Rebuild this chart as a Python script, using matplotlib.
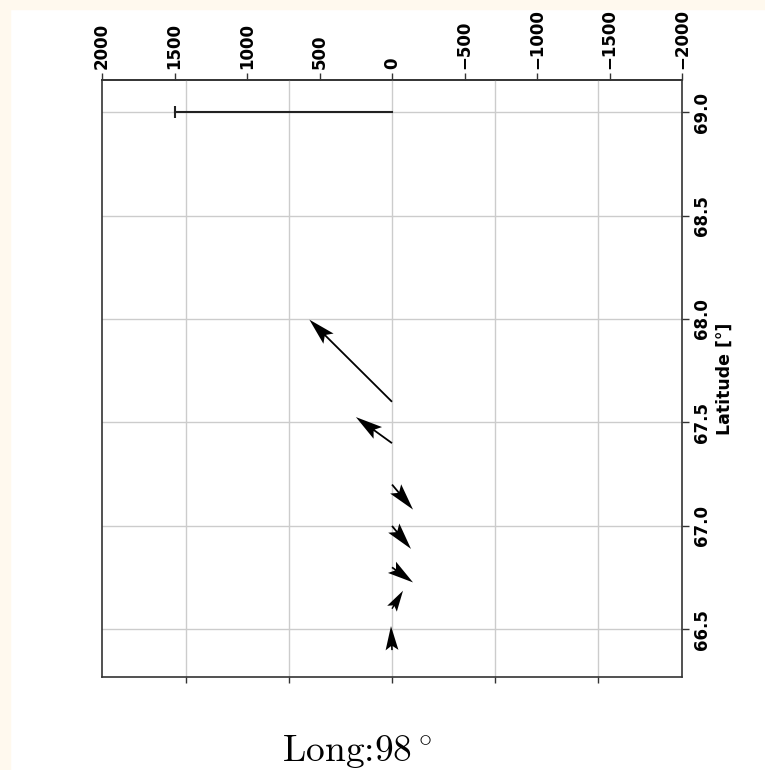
import numpy as np
import matplotlib
matplotlib.use('Agg')
from matplotlib import pyplot as plt
from matplotlib.patches import Rectangle

plt.rcParams['mathtext.fontset'] = 'cm'
#
# vector tails (latitude) and components (horizontal in display units, latitude)
lat = np.array([66.4, 66.6, 66.8, 67.0, 67.2, 67.4, 67.6])
u = np.array([7, -76, -145, -131, -145, 249, 570])
v = np.array([0.116, 0.087, -0.073, -0.111, -0.121, 0.126, 0.397])
x0 = np.zeros_like(lat)
#
ref_lat = 69.0
ref_len = 1500
#
top_ticks = [2000, 1500, 1000, 500, 0, -500, -1000, -1500, -2000]
grid_ticks = [1420, 710, 0, -710, -1420]
lat_ticks = [66.5, 67.0, 67.5, 68.0, 68.5, 69.0]
label_text = 'Latitude [°]'
long_text = 'Long:98$\\,^{\\circ}$'
#
fig = plt.figure(figsize=(7.65, 7.7), dpi=100)
fig.patches.append(Rectangle((0, 0), 10/765, 1, transform=fig.transFigure,
                             color='#fff9ee', zorder=-1))
fig.patches.append(Rectangle((0, 1-9/770), 1, 9/770, transform=fig.transFigure,
                             color='#fff9ee', zorder=-1))
#
ax = fig.add_axes([102/765, 1-677/770, 580/765, 597/770])
ax.set_xlim(2000, -2000)
ax.set_ylim(66.27, 69.155)
ax.set_xticks(grid_ticks)
ax.set_xticklabels([])
ax.set_yticks(lat_ticks)
ax.set_yticklabels(['%.1f' % t for t in lat_ticks], rotation=90, va='center',
                   fontsize=12, fontweight='bold')
ax.yaxis.tick_right()
ax.yaxis.set_label_position('right')
ax.set_ylabel(label_text, fontsize=12.5, fontweight='bold', rotation=90, labelpad=3)
ax.tick_params(axis='y', length=5, width=1, color='#333333', pad=3)
ax.tick_params(axis='x', length=4, width=1, color='#333333')
ax.grid(True, color='#cccccc', lw=1)
ax.set_axisbelow(True)
for s in ax.spines.values():
  s.set_color('#333333')
  s.set_linewidth(1.2)
#
top = ax.secondary_xaxis('top')
top.set_xticks(top_ticks)
top.set_xticklabels(['%d' % t if t >= 0 else '\u2212%d' % -t for t in top_ticks],
                    rotation=90, fontsize=12, fontweight='bold')
top.tick_params(length=5, width=1, color='#333333', pad=3)
top.spines['top'].set_color('#333333')
top.spines['top'].set_linewidth(1.2)
#
ax.quiver(x0, lat, u, v, angles='xy', scale_units='xy', scale=1,
          units='dots', width=1.8, headwidth=8, headlength=15,
          headaxislength=12.5, color='black', zorder=3)
ax.plot([0, ref_len], [ref_lat, ref_lat], color='#222222', lw=1.5, zorder=3)
ax.plot([ref_len], [ref_lat], marker='|', ms=9, mew=1.5, color='#222222', zorder=3)
#
fig.text(357/765, 1-752/770, long_text, fontsize=27, ha='center', va='center',
         family='cmr10')
fig.savefig('out.png', dpi=100)
